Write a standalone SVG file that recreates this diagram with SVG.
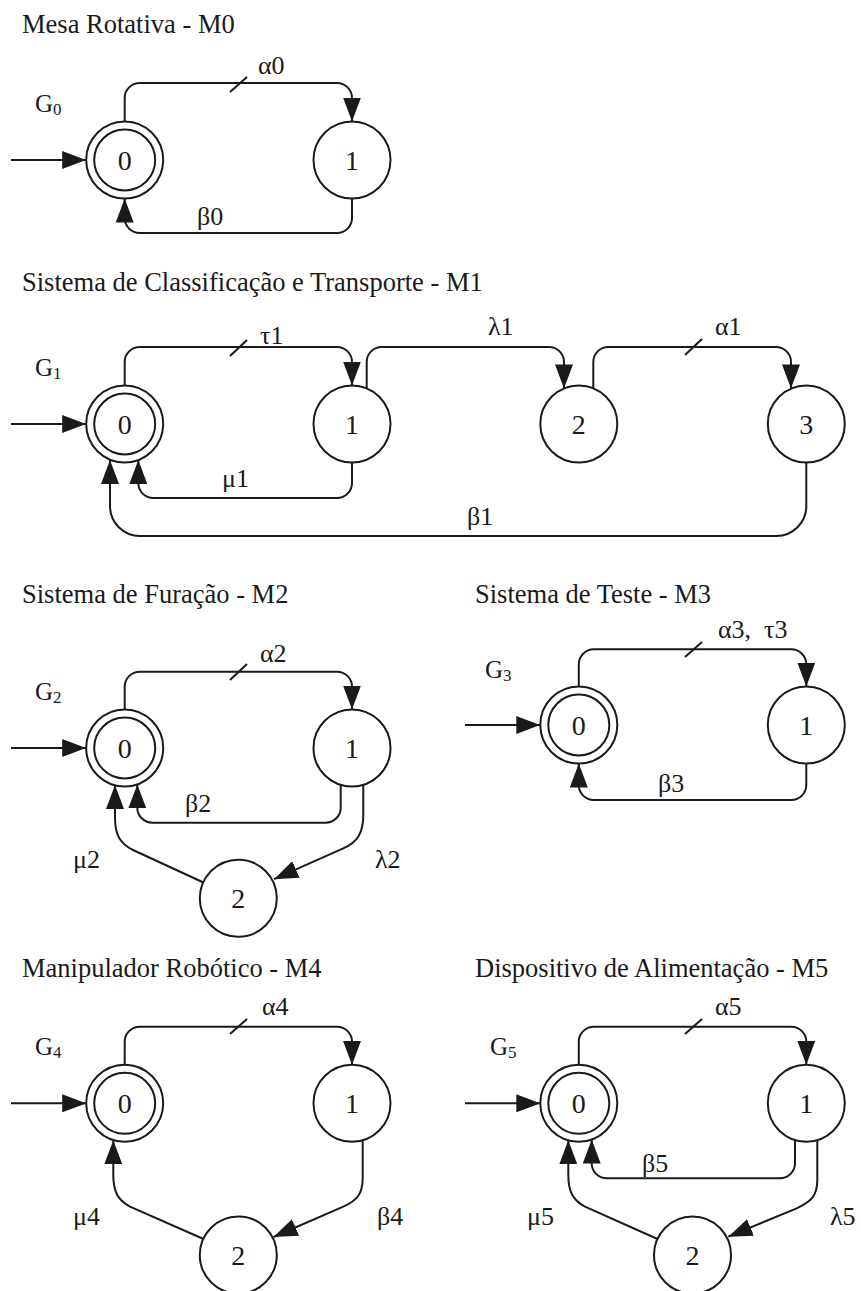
<svg xmlns="http://www.w3.org/2000/svg" width="861" height="1291" viewBox="0 0 861 1291">
<style>
.title{font-family:"Liberation Serif","Times New Roman",serif;font-size:26.5px;fill:#1a1a1a}
.lbl{font-family:"Liberation Serif","Times New Roman",serif;font-size:26px;fill:#1a1a1a}
.g{font-family:"Liberation Serif","Times New Roman",serif;font-size:25px;fill:#1a1a1a}
.sub{font-size:17px}
.st{font-family:"Liberation Serif","Times New Roman",serif;font-size:28px;fill:#1a1a1a;text-anchor:middle}
circle{fill:#fff;stroke:#1a1a1a;stroke-width:2}
.e{fill:none;stroke:#1a1a1a;stroke-width:2;marker-end:url(#ah)}
.t{fill:none;stroke:#1a1a1a;stroke-width:2}
</style>
<defs>
<marker id="ah" markerWidth="24" markerHeight="18" refX="24" refY="9" orient="auto" markerUnits="userSpaceOnUse">
<path d="M0,0 L24,9 L0,18 z" fill="#1a1a1a"/>
</marker>
</defs>
<rect width="861" height="1291" fill="#fff"/>

<!-- Titles -->
<text class="title" x="22" y="33">Mesa Rotativa - M0</text>
<text class="title" x="22" y="291">Sistema de Classificação e Transporte - M1</text>
<text class="title" x="22" y="603">Sistema de Furação - M2</text>
<text class="title" x="475" y="603">Sistema de Teste - M3</text>
<text class="title" x="22" y="977">Manipulador Robótico - M4</text>
<text class="title" x="475" y="977">Dispositivo de Alimentação - M5</text>

<!-- G labels -->
<text class="g" x="35" y="112">G<tspan class="sub" dy="3">0</tspan></text>
<text class="g" x="35" y="376">G<tspan class="sub" dy="3">1</tspan></text>
<text class="g" x="35" y="700">G<tspan class="sub" dy="3">2</tspan></text>
<text class="g" x="485" y="678">G<tspan class="sub" dy="3">3</tspan></text>
<text class="g" x="35" y="1055">G<tspan class="sub" dy="3">4</tspan></text>
<text class="g" x="490" y="1055">G<tspan class="sub" dy="3">5</tspan></text>

<!-- Nodes M0 -->
<g id="m0-s0"><circle cx="124.7" cy="160" r="38.5"/><circle cx="124.7" cy="160" r="30.5"/><text class="st" x="124.7" y="170">0</text></g>
<g id="m0-s1"><circle cx="352" cy="160" r="38.5"/><text class="st" x="352" y="170">1</text></g>
<!-- Nodes M1 -->
<g id="m1-s0"><circle cx="124.7" cy="424" r="38.5"/><circle cx="124.7" cy="424" r="30.5"/><text class="st" x="124.7" y="434">0</text></g>
<g id="m1-s1"><circle cx="352" cy="424" r="38.5"/><text class="st" x="352" y="434">1</text></g>
<g id="m1-s2"><circle cx="578.8" cy="424" r="38.5"/><text class="st" x="578.8" y="434">2</text></g>
<g id="m1-s3"><circle cx="806.3" cy="424" r="38.5"/><text class="st" x="806.3" y="434">3</text></g>
<!-- Nodes M2 -->
<g id="m2-s0"><circle cx="124.7" cy="748" r="38.5"/><circle cx="124.7" cy="748" r="30.5"/><text class="st" x="124.7" y="758">0</text></g>
<g id="m2-s1"><circle cx="352" cy="748" r="38.5"/><text class="st" x="352" y="758">1</text></g>
<g id="m2-s2"><circle cx="238.3" cy="898.3" r="38.5"/><text class="st" x="238.3" y="908.3">2</text></g>
<!-- Nodes M3 -->
<g id="m3-s0"><circle cx="578.8" cy="725" r="38.5"/><circle cx="578.8" cy="725" r="30.5"/><text class="st" x="578.8" y="735">0</text></g>
<g id="m3-s1"><circle cx="806.3" cy="725" r="38.5"/><text class="st" x="806.3" y="735">1</text></g>
<!-- Nodes M4 -->
<g id="m4-s0"><circle cx="124.7" cy="1103.3" r="38.5"/><circle cx="124.7" cy="1103.3" r="30.5"/><text class="st" x="124.7" y="1113.3">0</text></g>
<g id="m4-s1"><circle cx="352" cy="1103.3" r="38.5"/><text class="st" x="352" y="1113.3">1</text></g>
<g id="m4-s2"><circle cx="238.3" cy="1255" r="38.5"/><text class="st" x="238.3" y="1265">2</text></g>
<!-- Nodes M5 -->
<g id="m5-s0"><circle cx="578.8" cy="1103.3" r="38.5"/><circle cx="578.8" cy="1103.3" r="30.5"/><text class="st" x="578.8" y="1113.3">0</text></g>
<g id="m5-s1"><circle cx="806.3" cy="1103.3" r="38.5"/><text class="st" x="806.3" y="1113.3">1</text></g>
<g id="m5-s2"><circle cx="692.5" cy="1255" r="38.5"/><text class="st" x="692.5" y="1265">2</text></g>

<g id="connectors">
<!-- M0 -->
<path class="e" d="M11,160 L86.2,160"/>
<path class="e" d="M124.7,121.5 L124.7,98 A15,15 0 0 1 139.7,83 L337,83 A15,15 0 0 1 352,98 L352,121.5"/>
<path class="t" d="M230,92 L247,77"/>
<path class="e" d="M352,198.5 L352,218 A15,15 0 0 1 337,233 L139.7,233 A15,15 0 0 1 124.7,218 L124.7,198.5"/>
<!-- M1 -->
<path class="e" d="M11,424 L86.2,424"/>
<path class="e" d="M124.7,385.5 L124.7,362 A15,15 0 0 1 139.7,347 L337,347 A15,15 0 0 1 352,362 L352,385.5"/>
<path class="t" d="M230,356 L247,340"/>
<path class="e" d="M366.7,388.4 L366.7,362 A15,15 0 0 1 381.7,347 L549,347 A15,15 0 0 1 564,362 L564,388.4"/>
<path class="e" d="M593.3,388.4 L593.3,362 A15,15 0 0 1 608.3,347 L776,347 A15,15 0 0 1 791,362 L791,388.4"/>
<path class="t" d="M685,355 L702,339"/>
<path class="e" d="M352,462.5 L352,483 A15,15 0 0 1 337,498 L153.3,498 A15,15 0 0 1 138.3,483 L138.3,460"/>
<path class="e" d="M806.3,462.5 L806.3,506 A30,30 0 0 1 776.3,536 L140,536 A30,30 0 0 1 110,506 L110,460"/>
<!-- M2 -->
<path class="e" d="M11,748 L86.2,748"/>
<path class="e" d="M124.7,709.5 L124.7,686.7 A15,15 0 0 1 139.7,671.7 L337,671.7 A15,15 0 0 1 352,686.7 L352,709.5"/>
<path class="t" d="M230,680 L247,664"/>
<path class="e" d="M340.7,784.8 L340.7,807.7 A15,15 0 0 1 325.7,822.7 L152.3,822.7 A15,15 0 0 1 137.3,807.7 L137.3,784.4"/>
<path class="e" d="M363.3,784.8 L363.3,815 C363.3,832 358,842 343.3,848.3 L274,879.2"/>
<path class="e" d="M203.5,882.5 L133,850 C121,844 115,836 115,818 L115,785"/>
<!-- M3 -->
<path class="e" d="M465,725 L540.3,725"/>
<path class="e" d="M578.8,686.5 L578.8,664.3 A15,15 0 0 1 593.8,649.3 L791.3,649.3 A15,15 0 0 1 806.3,664.3 L806.3,686.5"/>
<path class="t" d="M685,657 L702,642"/>
<path class="e" d="M806.3,763.5 L806.3,785 A15,15 0 0 1 791.3,800 L593.8,800 A15,15 0 0 1 578.8,785 L578.8,763.5"/>
<!-- M4 -->
<path class="e" d="M11,1103.3 L86.2,1103.3"/>
<path class="e" d="M124.7,1064.8 L124.7,1041.7 A15,15 0 0 1 139.7,1026.7 L337,1026.7 A15,15 0 0 1 352,1041.7 L352,1064.8"/>
<path class="t" d="M230,1034 L247,1019"/>
<path class="e" d="M362.7,1140.3 L362.7,1178 C362.7,1194 357,1200.5 343.3,1206.7 L273.5,1237"/>
<path class="e" d="M203.5,1239 L130,1206.7 C118,1200 113.3,1192 113.3,1175 L113.3,1140.3"/>
<!-- M5 -->
<path class="e" d="M465,1103.3 L540.3,1103.3"/>
<path class="e" d="M578.8,1064.8 L578.8,1041.7 A15,15 0 0 1 593.8,1026.7 L791.3,1026.7 A15,15 0 0 1 806.3,1041.7 L806.3,1064.8"/>
<path class="t" d="M685,1034 L702,1019"/>
<path class="e" d="M795,1140.1 L795,1163.3 A15,15 0 0 1 780,1178.3 L606.7,1178.3 A15,15 0 0 1 591.7,1163.3 L591.7,1139.6"/>
<path class="e" d="M817.3,1140.2 L817.3,1180 C817.3,1196 811,1201.5 796.7,1208.3 L728.3,1236.7"/>
<path class="e" d="M657.5,1239 L585,1206.7 C573,1200 568.3,1192 568.3,1175 L568.3,1140.3"/>
</g>

<!-- Edge labels -->
<text class="lbl" x="258" y="74">α0</text>
<text class="lbl" x="197" y="225">β0</text>
<text class="lbl" x="260" y="344">τ1</text>
<text class="lbl" x="488" y="335">λ1</text>
<text class="lbl" x="715" y="335">α1</text>
<text class="lbl" x="222" y="487">μ1</text>
<text class="lbl" x="467" y="525">β1</text>
<text class="lbl" x="260" y="662">α2</text>
<text class="lbl" x="185" y="812">β2</text>
<text class="lbl" x="375" y="868">λ2</text>
<text class="lbl" x="73" y="868">μ2</text>
<text class="lbl" x="718" y="638" xml:space="preserve">α3,  τ3</text>
<text class="lbl" x="658" y="792">β3</text>
<text class="lbl" x="262" y="1015">α4</text>
<text class="lbl" x="377" y="1225">β4</text>
<text class="lbl" x="73" y="1225">μ4</text>
<text class="lbl" x="715" y="1015">α5</text>
<text class="lbl" x="642" y="1172">β5</text>
<text class="lbl" x="830" y="1225">λ5</text>
<text class="lbl" x="527" y="1225">μ5</text>
</svg>
